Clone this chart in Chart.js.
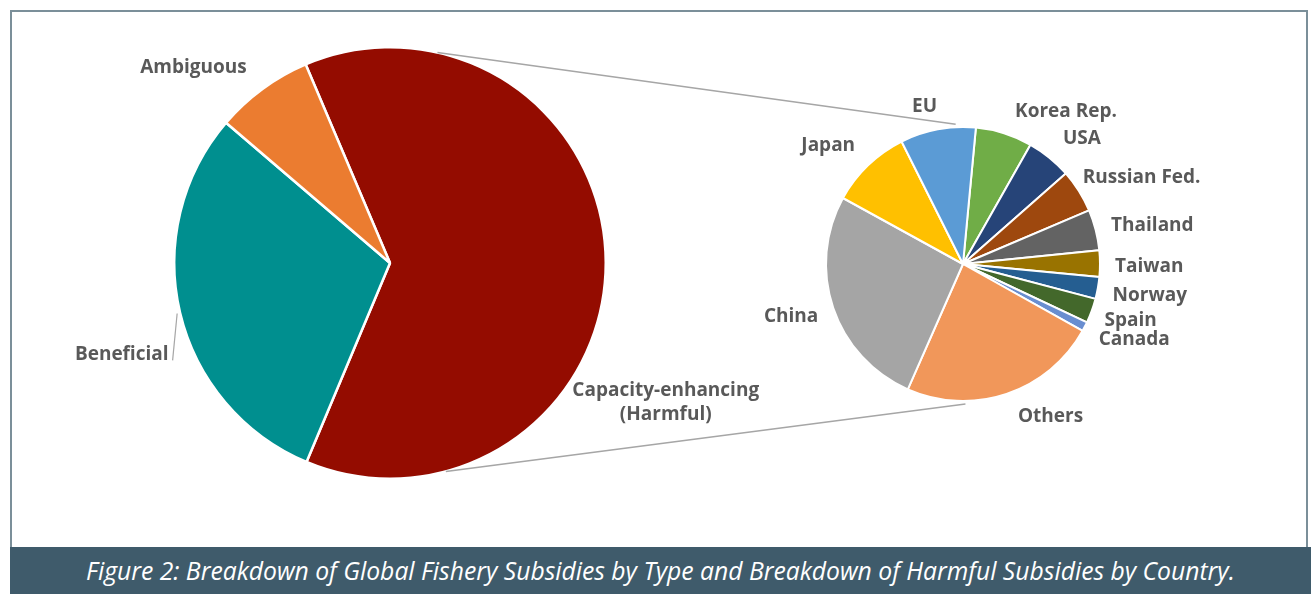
<!DOCTYPE html>
<html>
<head>
<meta charset="utf-8">
<script src="https://cdn.jsdelivr.net/npm/chart.js@4"></script>
<style>
  body { margin: 0; background: #fff; width: 1316px; height: 594px; position: relative; overflow: hidden; }
  #frame { position: absolute; left: 10px; top: 10px; width: 1298px; height: 540px; border: 2px solid #7b8f99; border-bottom: none; box-sizing: border-box; }
  canvas { position: absolute; left: 0; top: 0; }
  #caption { position: absolute; left: 10px; top: 547px; width: 1301px; height: 47px; background: #3f5b6b;
    color: #fff; font-family: "Open Sans", sans-serif; font-style: italic; font-size: 24.7px;
    line-height: 47px; text-align: center; }
</style>
</head>
<body>
<div id="frame"></div>
<canvas id="typeChart" width="1316" height="546"></canvas>
<canvas id="countryChart" width="1316" height="546"></canvas>
<div id="caption">Figure 2: Breakdown of Global Fishery Subsidies by Type and Breakdown of Harmful Subsidies by Country.</div>
<script>
// subsidies by type (billion USD)
const typeLabels = [['Capacity-enhancing', '(Harmful)'], 'Beneficial', 'Ambiguous'];
const typeValues = [22.2, 10.6, 2.6];
const typeColors = ['#940c00', '#008f8f', '#eb7c30'];

// harmful subsidies by country (% of harmful total)
const countryLabels = ['Korea Rep.', 'USA', 'Russian Fed.', 'Thailand', 'Taiwan', 'Norway', 'Spain', 'Canada', 'Others', 'China', 'Japan', 'EU'];
const countryValues = [6.7, 5.3, 5.1, 4.8, 3.1, 2.6, 2.9, 1.1, 23.5, 26.4, 9.6, 8.9];
const countryColors = ['#70ad47', '#264478', '#9e480e', '#636363', '#997300', '#255e91', '#43682b', '#698ed0', '#f1975a', '#a5a5a5', '#ffc000', '#5b9bd5'];

const deg = Math.PI / 180;

// labels outside each slice, with small nudges like the hand-placed ones in the original
const sliceLabels = {
  id: 'sliceLabels',
  afterDatasetsDraw(chart, args, opts) {
    const ctx = chart.ctx;
    const arcs = chart.getDatasetMeta(0).data;
    ctx.save();
    ctx.font = opts.font;
    ctx.fillStyle = opts.color;
    ctx.textBaseline = 'middle';
    arcs.forEach((arc, i) => {
      const p = arc.getProps(['x', 'y', 'startAngle', 'endAngle', 'outerRadius'], true);
      const mid = (p.startAngle + p.endAngle) / 2;
      const r = p.outerRadius + opts.gap;
      const n = (opts.nudge && opts.nudge[i]) || {};
      const x = p.x + Math.cos(mid) * r + (n.dx || 0);
      const y = p.y + Math.sin(mid) * r + (n.dy || 0);
      ctx.textAlign = n.align || (Math.cos(mid) >= 0 ? 'left' : 'right');
      const lines = [].concat(chart.data.labels[i]);
      lines.forEach((t, k) => {
        ctx.fillText(t, x, y + (k - (lines.length - 1) / 2) * opts.lineHeight);
      });
      if (n.leader) {
        ctx.strokeStyle = '#a6a6a6';
        ctx.lineWidth = 1.2;
        ctx.beginPath();
        ctx.moveTo(p.x + Math.cos(mid) * (p.outerRadius + 3), p.y + Math.sin(mid) * (p.outerRadius + 3));
        ctx.lineTo(x + 4, y + 6);
        ctx.stroke();
      }
    });
    ctx.restore();
  }
};

// connector lines between the two pies
const connectors = {
  id: 'connectors',
  afterDraw(chart, args, opts) {
    const src = opts.source.getDatasetMeta(0).data[0];
    const dst = chart.getDatasetMeta(0).data[0];
    const ctx = chart.ctx;
    ctx.save();
    ctx.strokeStyle = '#a6a6a6';
    ctx.lineWidth = 1.5;
    opts.pairs.forEach(pr => {
      const a = (pr[0] - 90) * deg, b = (pr[1] - 90) * deg;
      ctx.beginPath();
      ctx.moveTo(src.x + Math.cos(a) * src.outerRadius, src.y + Math.sin(a) * src.outerRadius);
      ctx.lineTo(dst.x + Math.cos(b) * (dst.outerRadius + 3), dst.y + Math.sin(b) * (dst.outerRadius + 3));
      ctx.stroke();
    });
    ctx.restore();
  }
};

const labelFont = 'bold 19px "Open Sans", sans-serif';

const typeChart = new Chart(document.getElementById('typeChart'), {
  type: 'pie',
  data: {
    labels: typeLabels,
    datasets: [{ data: typeValues, backgroundColor: typeColors, borderColor: '#fff', borderWidth: 2.5 }]
  },
  options: {
    responsive: false,
    animation: false,
    rotation: -23,
    layout: { padding: { left: 173, right: 709, top: 46, bottom: 66 } },
    plugins: {
      legend: { display: false },
      tooltip: { enabled: false },
      sliceLabels: {
        font: labelFont, color: '#595959', gap: 20, lineHeight: 24,
        nudge: [
          { dx: 40, dy: 140, align: 'center' },
          { dx: 8, dy: 37, leader: true },
          { dx: -4, dy: -5 }
        ]
      }
    }
  },
  plugins: [sliceLabels]
});

new Chart(document.getElementById('countryChart'), {
  type: 'pie',
  data: {
    labels: countryLabels,
    datasets: [{ data: countryValues, backgroundColor: countryColors, borderColor: '#fff', borderWidth: 2 }]
  },
  options: {
    responsive: false,
    animation: false,
    rotation: 5.4,
    layout: { padding: { left: 825, right: 215, top: 126, bottom: 144 } },
    plugins: {
      legend: { display: false },
      tooltip: { enabled: false },
      sliceLabels: {
        font: labelFont, color: '#595959', gap: 20, lineHeight: 20,
        nudge: [
          { dx: 5, dy: -3 }, { dx: 1, dy: -3 }, { dx: -13, dy: -3 }, { dx: -4, dy: 1 },
          { dx: -5, dy: 3 }, { dx: -5, dy: 4 }, { dx: -6, dy: 3 }, { dx: -4, dy: 4 },
          { dx: 5, dy: 4 }, { dx: 4, dy: 2 }, { dx: 1, dy: -5 }, { dx: 3, dy: -3 }
        ]
      },
      connectors: { source: typeChart, pairs: [[12.7, -3], [165, 179]] }
    }
  },
  plugins: [sliceLabels, connectors]
});
</script>
</body>
</html>
